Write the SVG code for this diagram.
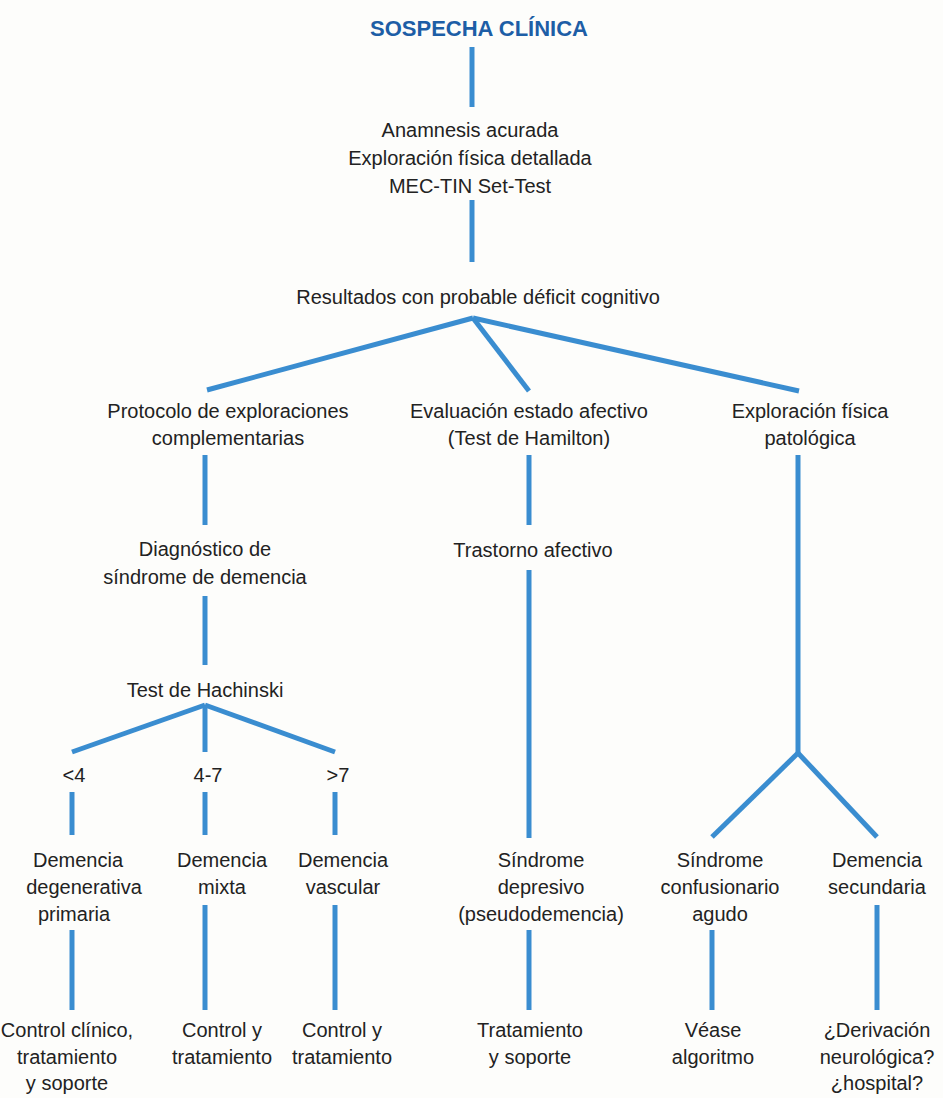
<svg xmlns="http://www.w3.org/2000/svg" width="943" height="1098" viewBox="0 0 943 1098">
<style>
.t{font-family:"Liberation Sans",Arial,sans-serif;font-size:20px;fill:#222;text-anchor:middle}
.title{font-family:"Liberation Sans",Arial,sans-serif;font-size:22px;font-weight:bold;fill:#1d5ea6;text-anchor:middle}
.c line{stroke:#3a8dd0;stroke-width:5;stroke-linecap:butt}
</style>
<rect width="943" height="1098" fill="#fdfdfb"/>
<g class="c" id="connectors">
<line x1="472" y1="47" x2="472" y2="107"/>
<line x1="472" y1="200" x2="472" y2="262"/>
<line x1="473" y1="318" x2="207" y2="390"/>
<line x1="473" y1="318" x2="529" y2="391"/>
<line x1="473" y1="318" x2="799" y2="391"/>
<line x1="205" y1="455" x2="205" y2="525"/>
<line x1="205" y1="596" x2="205" y2="665"/>
<line x1="205" y1="705" x2="72" y2="752"/>
<line x1="205" y1="705" x2="205" y2="752"/>
<line x1="205" y1="705" x2="335" y2="752"/>
<line x1="72" y1="792" x2="72" y2="835"/>
<line x1="205" y1="792" x2="205" y2="835"/>
<line x1="335" y1="792" x2="335" y2="835"/>
<line x1="72" y1="930" x2="72" y2="1010"/>
<line x1="205" y1="905" x2="205" y2="1010"/>
<line x1="335" y1="905" x2="335" y2="1010"/>
<line x1="529" y1="455" x2="529" y2="525"/>
<line x1="529" y1="570" x2="529" y2="838"/>
<line x1="529" y1="930" x2="529" y2="1010"/>
<line x1="798" y1="455" x2="798" y2="753"/>
<line x1="798" y1="753" x2="712" y2="837"/>
<line x1="798" y1="753" x2="877" y2="837"/>
<line x1="712" y1="930" x2="712" y2="1010"/>
<line x1="877" y1="905" x2="877" y2="1010"/>
</g>
<g id="n_sospecha"><text class="title" x="479" y="36">SOSPECHA CLÍNICA</text></g>
<g id="n_anamnesis"><text class="t" x="470" y="137">Anamnesis acurada</text><text class="t" x="470" y="165">Exploración física detallada</text><text class="t" x="470" y="193">MEC-TIN Set-Test</text></g>
<g id="n_resultados"><text class="t" x="478" y="304">Resultados con probable déficit cognitivo</text></g>
<g id="n_protocolo"><text class="t" x="228" y="418">Protocolo de exploraciones</text><text class="t" x="228" y="445">complementarias</text></g>
<g id="n_evaluacion"><text class="t" x="529" y="418">Evaluación estado afectivo</text><text class="t" x="529" y="445">(Test de Hamilton)</text></g>
<g id="n_exploracion"><text class="t" x="810" y="418">Exploración física</text><text class="t" x="810" y="445">patológica</text></g>
<g id="n_diagnostico"><text class="t" x="205" y="556">Diagnóstico de</text><text class="t" x="205" y="584">síndrome de demencia</text></g>
<g id="n_trastorno"><text class="t" x="533" y="557">Trastorno afectivo</text></g>
<g id="n_hachinski"><text class="t" x="205" y="697">Test de Hachinski</text></g>
<g id="n_lt4"><text class="t" x="74" y="782">&lt;4</text></g>
<g id="n_47"><text class="t" x="208" y="782">4-7</text></g>
<g id="n_gt7"><text class="t" x="338" y="782">&gt;7</text></g>
<g id="n_degenerativa"><text class="t" x="78" y="867">Demencia</text><text class="t" x="84" y="894">degenerativa</text><text class="t" x="74" y="921">primaria</text></g>
<g id="n_mixta"><text class="t" x="222" y="867">Demencia</text><text class="t" x="222" y="894">mixta</text></g>
<g id="n_vascular"><text class="t" x="343" y="867">Demencia</text><text class="t" x="343" y="894">vascular</text></g>
<g id="n_depresivo"><text class="t" x="541" y="867">Síndrome</text><text class="t" x="541" y="894">depresivo</text><text class="t" x="541" y="921">(pseudodemencia)</text></g>
<g id="n_confusionario"><text class="t" x="720" y="867">Síndrome</text><text class="t" x="720" y="894">confusionario</text><text class="t" x="720" y="921">agudo</text></g>
<g id="n_secundaria"><text class="t" x="877" y="867">Demencia</text><text class="t" x="877" y="894">secundaria</text></g>
<g id="n_control1"><text class="t" x="67" y="1037">Control clínico,</text><text class="t" x="67" y="1064">tratamiento</text><text class="t" x="67" y="1090">y soporte</text></g>
<g id="n_control2"><text class="t" x="222" y="1037">Control y</text><text class="t" x="222" y="1064">tratamiento</text></g>
<g id="n_control3"><text class="t" x="342" y="1037">Control y</text><text class="t" x="342" y="1064">tratamiento</text></g>
<g id="n_tratamiento"><text class="t" x="530" y="1037">Tratamiento</text><text class="t" x="530" y="1064">y soporte</text></g>
<g id="n_vease"><text class="t" x="713" y="1037">Véase</text><text class="t" x="713" y="1064">algoritmo</text></g>
<g id="n_derivacion"><text class="t" x="877" y="1037">¿Derivación</text><text class="t" x="877" y="1064">neurológica?</text><text class="t" x="877" y="1090">¿hospital?</text></g>
</svg>
